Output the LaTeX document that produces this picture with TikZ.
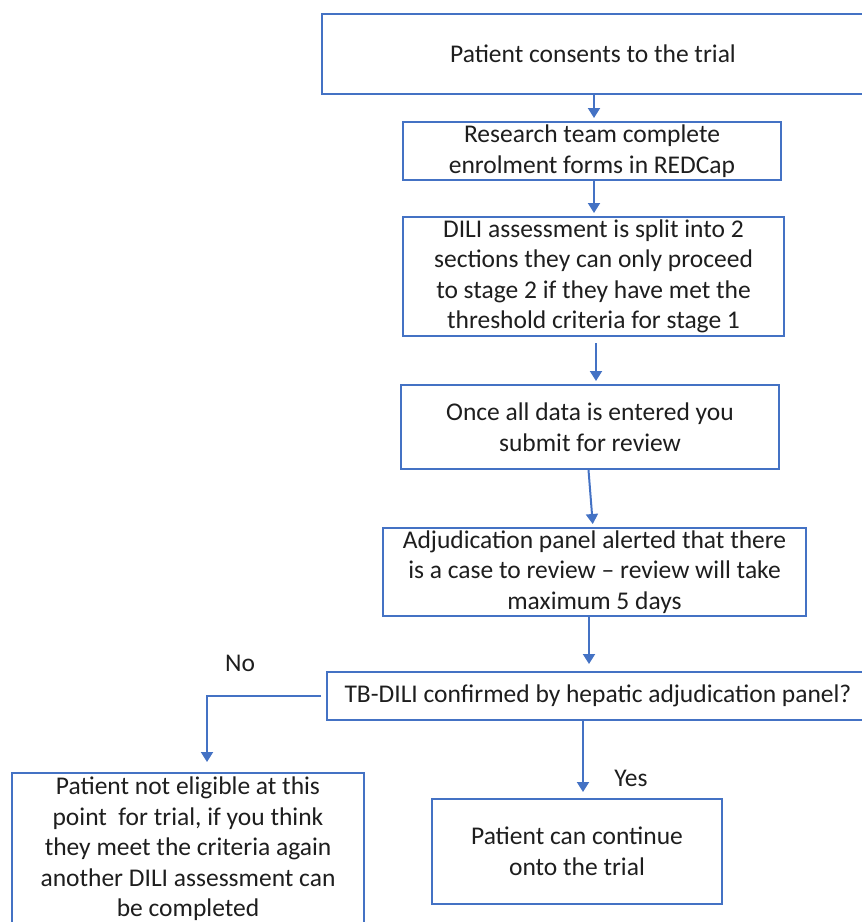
\documentclass[tikz,border=0pt]{standalone}
\usepackage{fontspec}
\setmainfont{Carlito}
\usetikzlibrary{arrows.meta}
\definecolor{lineblue}{HTML}{4472C4}
\definecolor{txtgray}{HTML}{1E1E1E}
\tikzset{
  flowbox/.style={draw=lineblue, line width=2pt, fill=white, inner sep=0pt,
    align=center, text=txtgray, font=\fontsize{25.5}{30.5}\selectfont},
  arr/.style={draw=lineblue, line width=2pt, -{Triangle[length=10pt,width=12pt]}},
  lbl/.style={text=txtgray, font=\fontsize{25.5}{30.5}\selectfont, inner sep=0pt}
}
\begin{document}
\begin{tikzpicture}[x=1pt,y=-1pt]
\useasboundingbox (0,0) rectangle (862,922);
\clip (0,0) rectangle (862,922);

\node[flowbox, minimum width=542pt, minimum height=80pt] (top) at (593,54) {Patient consents to the trial};
\node[flowbox, minimum width=378pt, minimum height=58pt] (box2) at (592,151) {Research team complete\\enrolment forms in REDCap};
\node[flowbox, minimum width=381pt, minimum height=119pt] (box3) at (593.5,276.5) {DILI assessment is split into 2\\sections they can only proceed\\to stage 2 if they have met the\\threshold criteria for stage 1};
\node[flowbox, minimum width=378pt, minimum height=84pt] (box4) at (590,427) {Once all data is entered you\\submit for review};
\node[flowbox, minimum width=423pt, minimum height=88pt] (box5) at (594.5,572) {Adjudication panel alerted that there\\is a case to review -- review will take\\maximum 5 days};
\node[flowbox, minimum width=542pt, minimum height=48pt] (dec) at (598,696) {TB-DILI confirmed by hepatic adjudication panel?};
\node[flowbox, minimum width=352pt, minimum height=152pt] (left) at (188,849) {Patient not eligible at this\\point~ for trial, if you think\\they meet the criteria again\\another DILI assessment can\\be completed};
\node[flowbox, minimum width=290pt, minimum height=105pt] (right) at (577,851.5) {Patient can continue\\onto the trial};

\node[lbl] (no) at (240,663) {No};
\node[lbl] (yes) at (631,778) {Yes};

\draw[arr, shorten >=3pt] (top.south -| 594,0) -- (box2.north -| 594,0);
\draw[arr, shorten >=3pt] (box2.south -| 594,0) -- (box3.north -| 594,0);
\draw[arr, shorten <=6pt, shorten >=3pt] (box3.south -| 596,0) -- (box4.north -| 596,0);
\draw[arr, shorten >=3pt] (box4.south -| 588.5,0) -- (box5.north -| 593,0);
\draw[arr, shorten >=7pt] (box5.south -| 589,0) -- (dec.north -| 589,0);
\draw[arr, shorten >=6pt] (dec.south -| 583,0) -- (right.north -| 583,0);
\draw[arr, shorten <=5pt, shorten >=10pt] (dec.west) -| (left.north -| 207,0);
\end{tikzpicture}
\end{document}
